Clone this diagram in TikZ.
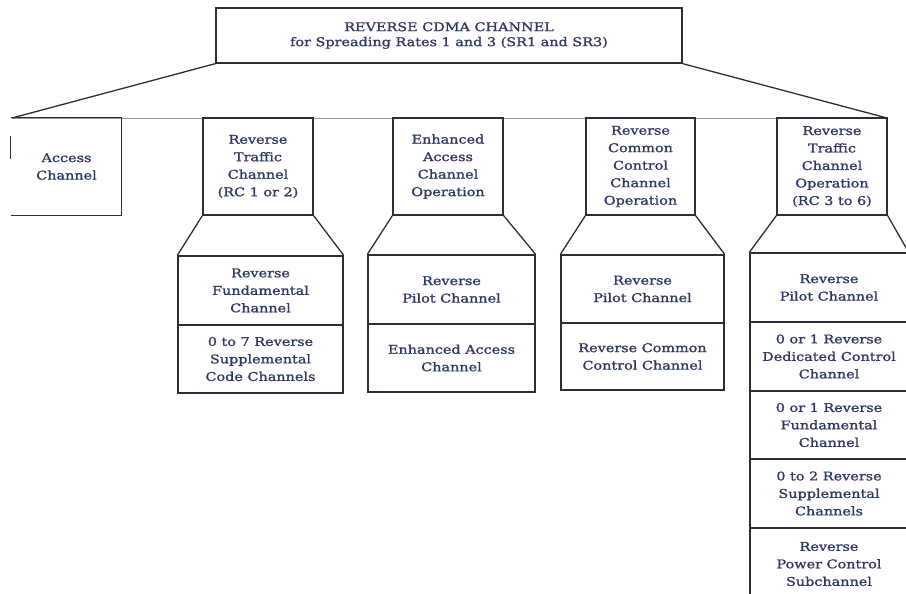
\documentclass[tikz,border=0pt]{standalone}
\usepackage{fontspec}
\setmainfont[FakeStretch=1.2,FakeBold=1.2]{DejaVu Serif}
\usetikzlibrary{calc}
\definecolor{txt}{RGB}{45,56,100}
\definecolor{ln}{RGB}{45,45,55}
\definecolor{faint}{RGB}{150,150,155}
\begin{document}
\begin{tikzpicture}[x=1pt,y=-1pt,
  box/.style={draw=ln, line width=1.3pt, inner sep=0pt, align=center, text=txt,
              font=\fontsize{12}{17.5}\selectfont},
  bare/.style={box, draw=none},
  conn/.style={draw=ln, line width=1.3pt},
  faintline/.style={draw=faint, line width=0.9pt}]
\useasboundingbox (0,0) rectangle (906,594);

% top box
\node[box, minimum width=466, minimum height=55, font=\fontsize{12}{15}\selectfont] (top) at (449,35.5)
  {REVERSE CDMA CHANNEL\\for Spreading Rates 1 and 3 (SR1 and SR3)};

\coordinate (hl) at (12,118);
\coordinate (hr) at (887,118);
\draw[faintline] (hl) -- (hr);
\draw[conn] (top.south west) -- (hl);
\draw[conn] (top.south east) -- (hr);

% second row
\node[bare, minimum width=109, minimum height=97] (acc) at (66.5,166.5) {Access\\Channel};
\draw[conn] (acc.north west) -- (acc.north east) -- (acc.south east) -- (acc.south west);
\draw[conn] ($(acc.north west)+(-1,19)$) -- ($(acc.north west)+(-1,42)$);
\node[box, minimum width=110, minimum height=97] (rt) at (258,166.5) {Reverse\\Traffic\\Channel\\(RC 1 or 2)};
\node[box, minimum width=110, minimum height=97] (ea) at (448,166.5) {Enhanced\\Access\\Channel\\Operation};
\node[box, minimum width=109, minimum height=97] (cc) at (640.5,166.5) {Reverse\\Common\\Control\\Channel\\Operation};
\node[box, minimum width=110, minimum height=97] (ro) at (832,166.5) {Reverse\\Traffic\\Channel\\Operation\\(RC 3 to 6)};

% column: Reverse Traffic Channel (RC 1 or 2)
\node[box, minimum width=165, minimum height=69] (rt1) at (260.5,290.5) {Reverse\\Fundamental\\Channel};
\node[box, minimum width=165, minimum height=68] (rt2) at (260.5,359) {0 to 7 Reverse\\Supplemental\\Code Channels};
\draw[conn] (rt.south west) -- (rt1.north west);
\draw[conn] (rt.south east) -- (rt1.north east);

% column: Enhanced Access Channel Operation
\node[box, minimum width=167, minimum height=69] (ea1) at (451.5,289.5) {Reverse\\Pilot Channel};
\node[box, minimum width=167, minimum height=68] (ea2) at (451.5,358) {Enhanced Access\\Channel};
\draw[conn] (ea.south west) -- (ea1.north west);
\draw[conn] (ea.south east) -- (ea1.north east);

% column: Reverse Common Control Channel Operation
\node[box, minimum width=163, minimum height=68] (cc1) at (642.5,289) {Reverse\\Pilot Channel};
\node[box, minimum width=163, minimum height=67] (cc2) at (642.5,356.5) {Reverse Common\\Control Channel};
\draw[conn] (cc.south west) -- (cc1.north west);
\draw[conn] (cc.south east) -- (cc1.north east);

% column: Reverse Traffic Channel Operation (RC 3 to 6)
\node[box, minimum width=158, minimum height=69] (ro1) at (829,287.5) {Reverse\\Pilot Channel};
\node[box, minimum width=158, minimum height=69] (ro2) at (829,356.5) {0 or 1 Reverse\\Dedicated Control\\Channel};
\node[box, minimum width=158, minimum height=68] (ro3) at (829,425) {0 or 1 Reverse\\Fundamental\\Channel};
\node[box, minimum width=158, minimum height=69] (ro4) at (829,493.5) {0 to 2 Reverse\\Supplemental\\Channels};
\node[box, minimum width=158, minimum height=72] (ro5) at (829,564) {Reverse\\Power Control\\Subchannel};
\draw[conn] (ro.south west) -- (ro1.north west);
\draw[conn] (ro.south east) -- (ro1.north east);
\end{tikzpicture}
\end{document}
